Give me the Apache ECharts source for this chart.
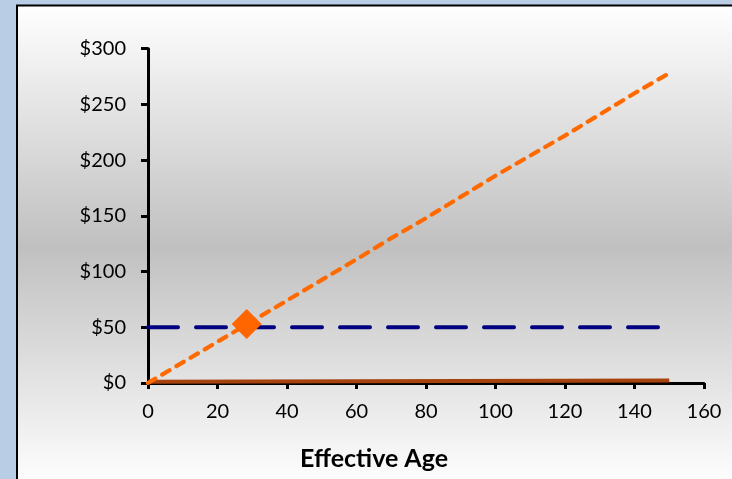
<!DOCTYPE html>
<html>
<head>
<meta charset="utf-8">
<script src="https://cdn.jsdelivr.net/npm/echarts@6/dist/echarts.min.js"></script>
<style>
html,body{margin:0;padding:0;background:#b9cde5;}
#chart{width:732px;height:479px;}
</style>
</head>
<body>
<div id="chart"></div>
<script>
// Data
const xTicks = [0, 20, 40, 60, 80, 100, 120, 140, 160];
const yTicks = [0, 50, 100, 150, 200, 250, 300];
const ages = [0, 10, 20, 30, 40, 50, 60, 70, 80, 90, 100, 110, 120, 130, 140, 150];
const costs = [0, 18.5, 37, 55.5, 74, 92.5, 111, 130, 148, 167, 186, 204, 222, 241, 260, 278];
const thresholdAges = [0, 150];
const thresholdValues = [50, 50];
const baseAges = [0, 150];
const baseValues = [1.2, 2.2];
const markerAge = [28.4];
const markerValue = [53];
const xTitle = 'Effective Age';

const chart = echarts.init(document.getElementById('chart'), null, {renderer: 'canvas'});
const font = 'Lato, "Open Sans", sans-serif';
const pairs = (xs, ys) => xs.map((x, i) => [x, ys[i]]);

chart.setOption({
  animation: false,
  backgroundColor: '#b9cde5',
  graphic: [
    {
      type: 'rect', z: -10, silent: true,
      shape: {x: 17, y: 5.5, width: 800, height: 600},
      style: {
        fill: new echarts.graphic.LinearGradient(0, 5, 0, 488, [
          {offset: 0, color: '#ffffff'},
          {offset: 0.5, color: '#c0c0c0'},
          {offset: 1, color: '#ffffff'}
        ], true),
        stroke: '#000', lineWidth: 2
      }
    },
    {
      type: 'text', left: 300, top: 446, z: 10,
      style: {text: xTitle, fill: '#000', font: 'bold 25px ' + font}
    }
  ],
  grid: {left: 148, right: 28, top: 48.7, bottom: 96, containLabel: false},
  xAxis: {
    type: 'value', min: 0, max: 160, interval: 20,
    axisLine: {show: true, lineStyle: {color: '#000', width: 3}},
    axisTick: {show: true, length: 6, lineStyle: {color: '#000', width: 3}},
    splitLine: {show: false},
    axisLabel: {color: '#000', fontSize: 20, fontFamily: font, margin: 19,
      customValues: xTicks}
  },
  yAxis: {
    type: 'value', min: 0, max: 300, interval: 50,
    axisLine: {show: true, lineStyle: {color: '#000', width: 3}},
    axisTick: {show: true, length: 7, lineStyle: {color: '#000', width: 3}},
    splitLine: {show: false},
    axisLabel: {color: '#000', fontSize: 20, fontFamily: font, margin: 22,
      formatter: v => '$' + v}
  },
  series: [
    {
      type: 'line', data: pairs(baseAges, baseValues), showSymbol: false, z: 3,
      lineStyle: {color: '#a5420e', width: 4}
    },
    {
      type: 'line', data: pairs(thresholdAges, thresholdValues), showSymbol: false, z: 4,
      lineStyle: {color: '#000080', width: 4, type: [30, 18], cap: 'round'}
    },
    {
      type: 'line', data: pairs(ages, costs), showSymbol: false, z: 5,
      lineStyle: {color: '#ff6a00', width: 4.2, type: [8.5, 8], cap: 'round', join: 'round'}
    },
    {
      type: 'scatter', data: pairs(markerAge, markerValue), z: 6,
      symbol: 'diamond', symbolSize: 30,
      itemStyle: {color: '#ff6600', opacity: 1}
    }
  ]
});
</script>
</body>
</html>
